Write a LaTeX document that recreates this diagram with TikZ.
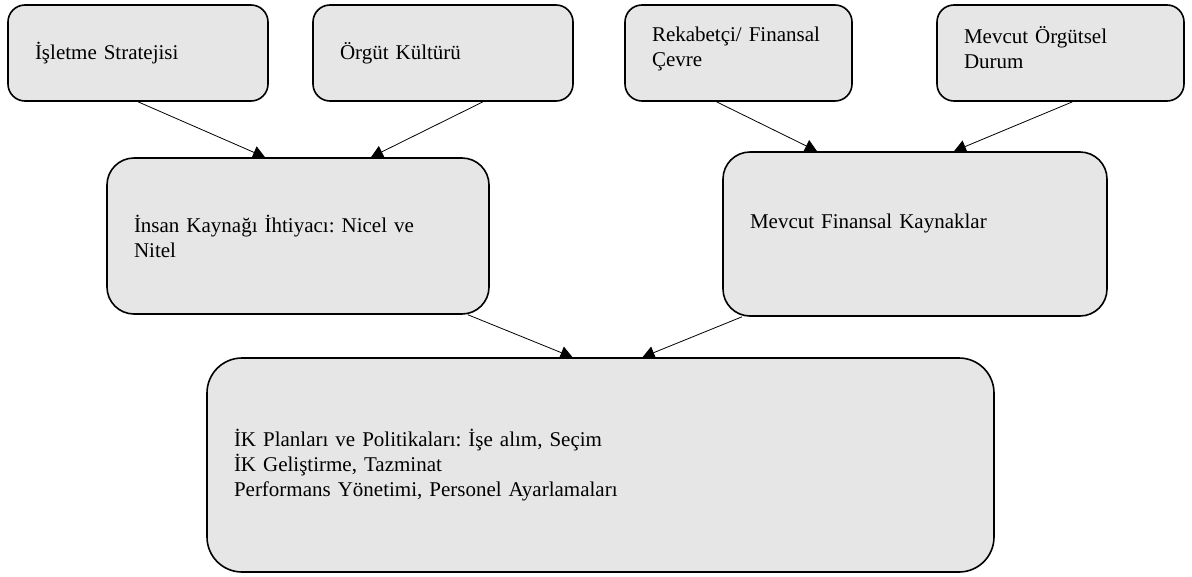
\documentclass[tikz,border=0pt]{standalone}
\usepackage{fontspec}
\setmainfont{Liberation Serif}
\usetikzlibrary{arrows.meta,backgrounds}
\definecolor{kutugri}{RGB}{230,230,230}
\frenchspacing
\tikzset{
  kutu/.style={draw,line width=1.6pt,fill=kutugri,rectangle,align=left,
    inner xsep=0pt,font=\fontsize{21}{25}\selectfont},
  ok/.style={line width=.8pt,-{Triangle[length=12pt,width=13pt]}}
}
\begin{document}
\begin{tikzpicture}[x=1pt,y=-1pt]
\useasboundingbox (0,0) rectangle (1192,576);
             \draw (138,53) node[kutu,minimum width=260pt,minimum height=96pt,
             text width=206pt,rounded corners=17pt] (A) {İşletme Stratejisi};
             \draw (443,53) node[kutu,minimum width=260pt,minimum height=96pt,
             text width=206pt,rounded corners=17pt] (B) {Örgüt Kültürü};
             \draw (738.5,53) node[kutu,minimum width=227pt,minimum height=96pt,
             text width=173pt,text depth=37pt,rounded corners=17pt] (C) {\mbox{Rekabetçi/ Finansal}\\Çevre};
             \draw (1060.5,53) node[kutu,minimum width=247pt,minimum height=96pt,
             text width=193pt,text depth=37pt,rounded corners=17pt] (D) {\mbox{Mevcut Örgütsel}\\Durum};
             \draw (298,236) node[kutu,minimum width=382pt,minimum height=156pt,
             text width=328pt,rounded corners=27pt] (E) {İnsan Kaynağı İhtiyacı: Nicel ve\\Nitel};
             \draw (915,234) node[kutu,minimum width=384pt,minimum height=164pt,
             text width=330pt,rounded corners=27pt] (F) {Mevcut Finansal Kaynaklar\\~};
             \draw (600.5,465) node[kutu,minimum width=787pt,minimum height=214pt,
             text width=733pt,rounded corners=35pt] (G)
             {İK Planları ve Politikaları: İşe alım, Seçim\\İK Geliştirme, Tazminat\\
             Performans Yönetimi, Personel Ayarlamaları};
            % oklar kutularin altinda kalsin
            \begin{scope}[on background layer]
            \draw[ok] (A.south)--([xshift=-33pt]E.north);
            \draw[ok] ([xshift=40pt]B.south)--([xshift=73pt]E.north);
            \draw[ok] ([xshift=-22pt]C.south)--([xshift=-98pt]F.north);
            \draw[ok] ([xshift=12pt]D.south)--([xshift=39pt]F.north);
            \draw[ok] ([xshift=170pt]E.south)--([xshift=-28pt]G.north);
            \draw[ok] ([xshift=-173pt]F.south)--([xshift=42pt]G.north);
            \end{scope}
\end{tikzpicture}
\end{document}
